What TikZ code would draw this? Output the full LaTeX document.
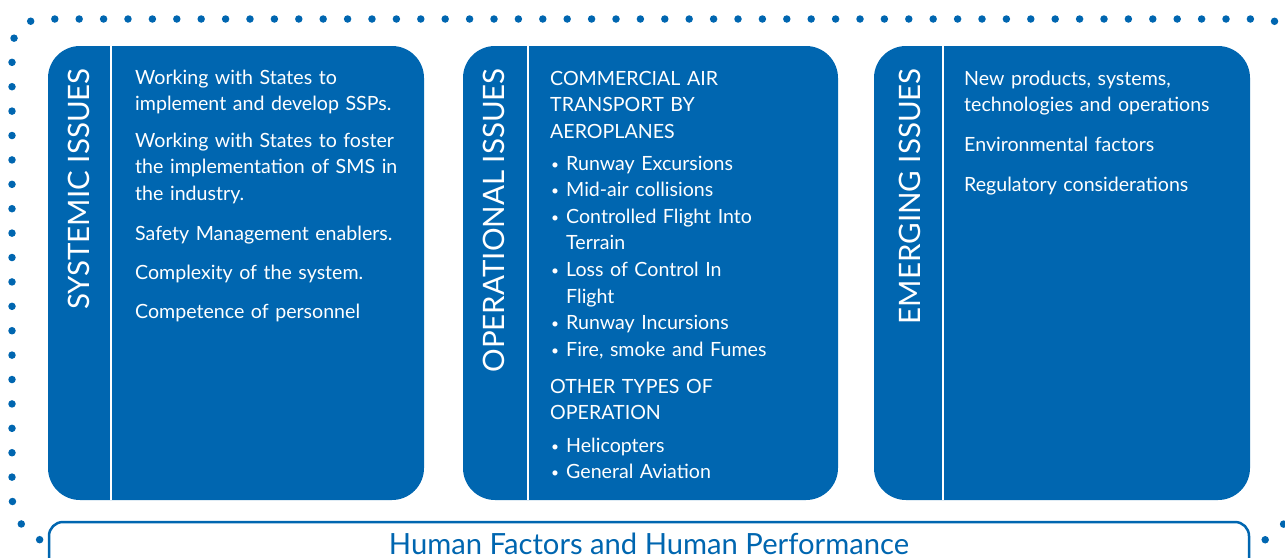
\documentclass[tikz,border=0pt]{standalone}
\usepackage{fontspec}
\setmainfont{Lato}

\definecolor{issueblue}{RGB}{0,102,176}

\tikzset{
  issuebox/.style={fill=issueblue, rounded corners=32pt},
  divider/.style={draw=white, line width=2pt},
  boxtitle/.style={white, rotate=90, anchor=base east, inner sep=0pt,
    font=\fontsize{29.5}{29.5}\selectfont},
  boxtext/.style={white, anchor=base west, inner sep=0pt, align=left,
    text width=290pt, font=\fontsize{19.6}{26.6}\selectfont},
  dotframe/.style={issueblue, line width=7.5pt, line cap=round,
    dash pattern=on 0pt off 24.4pt},
  hfbar/.style={draw=issueblue, fill=white, line width=2.5pt, rounded corners=14pt}
}
\newcommand{\itm}{\makebox[16pt][l]{\hspace{1pt}\raisebox{1pt}{\scalebox{0.7}{\textbullet}}}}
\newcommand{\cont}{\hspace*{16pt}}

\begin{document}
\begin{tikzpicture}[x=1pt, y=-1pt]
\clip (0,0) rectangle (1285,557);

% dotted frame round everything
\draw [dotframe] (650,545) [rounded corners=50pt] -- (12,545)
  [rounded corners=30pt] -- (12,19) -- (1293,19)
  [rounded corners=50pt] -- (1293,545) -- cycle;

% the three issue boxes
\fill [issuebox] (48,46) rectangle (424,500);
\fill [issuebox] (463,46) rectangle (838,500);
\fill [issuebox] (874,46) rectangle (1250,500);
\draw [divider] (111,46) -- (111,500);
\draw [divider] (528,46) -- (528,500);
\draw [divider] (943,46) -- (943,500);

% titles
\node [boxtitle] (systemic) at (89,68) {SYSTEMIC ISSUES};
\node [boxtitle] (operational) at (504,68) {OPERATIONAL ISSUES};
\node [boxtitle] (emerging) at (920,68) {EMERGING ISSUES};

% systemic
\node [boxtext] (ssp) at (135,84) {Working with States to\\implement and develop SSPs.};
\node [boxtext] (sms) at (135,147) {Working with States to foster\\the implementation of SMS in\\the industry.};
\node [boxtext] (enablers) at (135,240) {Safety Management enablers.};
\node [boxtext] (complexity) at (135,279) {Complexity of the system.};
\node [boxtext] (competence) at (135,318) {Competence of personnel};

% operational
\node [boxtext] (cat) at (550,85) {COMMERCIAL AIR\\TRANSPORT BY\\AEROPLANES};
\node [boxtext] (catlist) at (550,170) {\itm Runway Excursions\\\itm Mid-air collisions\\\itm Controlled Flight Into\\\cont Terrain\\\itm Loss of Control In\\\cont Flight\\\itm Runway Incursions\\\itm Fire, smoke and Fumes};
\node [boxtext] (other) at (550,393) {OTHER TYPES OF\\OPERATION};
\node [boxtext] (otherlist) at (550,452) {\itm Helicopters\\\itm General Aviation};

% emerging
\node [boxtext] (newtech) at (964,85) {New products, systems,\\technologies and operations};
\node [boxtext] (environment) at (964,151) {Environmental factors};
\node [boxtext] (regulatory) at (964,191) {Regulatory considerations};

% human factors bar
\draw [hfbar] (49,522) rectangle (1249,600);
\node [issueblue, anchor=base, inner sep=0pt, font=\fontsize{29.2}{29.2}\selectfont]
  (humanfactors) at (649,554) {Human Factors and Human Performance};
\end{tikzpicture}
\end{document}
